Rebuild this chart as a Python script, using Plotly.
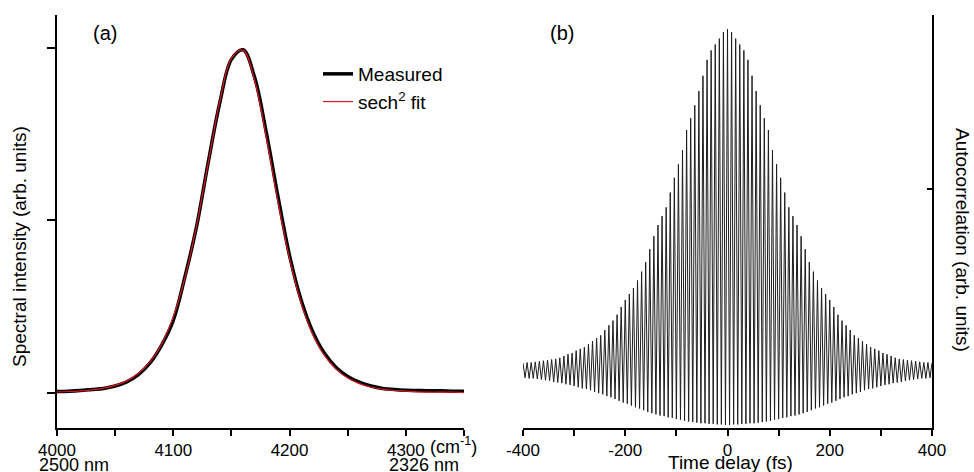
import plotly.graph_objects as go

# ---------------- Panel (a): spectrum ----------------
wavenumber = [4000, 4010, 4020, 4030, 4040, 4050, 4060, 4070, 4080, 4090,
              4100, 4110, 4120, 4130, 4140, 4150, 4160, 4170, 4180, 4190,
              4200, 4210, 4220, 4230, 4240, 4250, 4260, 4270, 4280, 4290,
              4300, 4310, 4320, 4330, 4340, 4350]
measured = [0.003, 0.004, 0.006, 0.009, 0.012, 0.019, 0.031, 0.052, 0.086, 0.138,
            0.210, 0.336, 0.482, 0.668, 0.842, 0.968, 0.996, 0.915, 0.755, 0.570,
            0.398, 0.268, 0.176, 0.114, 0.073, 0.047, 0.030, 0.019, 0.012, 0.009,
            0.007, 0.006, 0.005, 0.005, 0.004, 0.004]
sech2_fit = [0.002, 0.003, 0.005, 0.008, 0.013, 0.021, 0.034, 0.056, 0.089, 0.141,
             0.220, 0.333, 0.484, 0.666, 0.846, 0.971, 0.995, 0.906, 0.742, 0.555,
             0.389, 0.260, 0.169, 0.108, 0.068, 0.042, 0.026, 0.016, 0.010, 0.006,
             0.004, 0.002, 0.001, 0.001, 0.001, 0.000]

wn_tickvals = [4000, 4100, 4200, 4300]
wn_ticktext = ["4000", "4100", "4200", "4300"]
wn_minor = [4050, 4150, 4250, 4350]

# ---------------- Panel (b): interferometric autocorrelation ----------------
# fringe maxima at |delay| = 0, 8, ..., 400 fs
peak_vals = [6.71, 6.66, 6.55, 6.45, 6.35, 6.19, 5.92, 5.66, 5.42, 5.20,
             5.00, 4.66, 4.42, 4.19, 3.94, 3.69, 3.54, 3.39, 3.20, 2.98,
             2.76, 2.60, 2.45, 2.32, 2.22, 2.12, 2.00, 1.87, 1.77, 1.69,
             1.61, 1.52, 1.47, 1.42, 1.37, 1.32, 1.29, 1.26, 1.22, 1.20,
             1.17, 1.14, 1.12, 1.11, 1.10, 1.09, 1.08, 1.07, 1.06, 1.06,
             1.05]
# fringe minima at |delay| = 4, 12, ..., 396 fs
trough_vals = [0.00, 0.01, 0.01, 0.02, 0.02, 0.03, 0.03, 0.04, 0.05, 0.06,
               0.07, 0.09, 0.10, 0.12, 0.13, 0.15, 0.16, 0.18, 0.20, 0.22,
               0.25, 0.28, 0.30, 0.33, 0.36, 0.38, 0.41, 0.44, 0.47, 0.49,
               0.52, 0.54, 0.56, 0.59, 0.61, 0.62, 0.64, 0.66, 0.68, 0.69,
               0.71, 0.72, 0.73, 0.75, 0.76, 0.77, 0.78, 0.79, 0.79, 0.80]

delay_tickvals = [-400, -200, 0, 200, 400]
delay_ticktext = ["-400", "-200", "0", "200", "400"]
delay_minor = [-300, -100, 100, 300]

delays = list(range(-400, 401, 4))
acf = []
for d in delays:
    a = abs(d)
    if a % 8 == 0:
        acf.append(peak_vals[a // 8])
    else:
        acf.append(trough_vals[(a - 4) // 8])

# ---------------- Figure ----------------
W, H = 974, 472
FONT = "Liberation Sans, Arial, sans-serif"

def px(x):
    return x / W

def py(y):
    return 1 - y / H

fig = go.Figure()
fig.add_trace(go.Scatter(x=wavenumber, y=measured, mode="lines", name="Measured",
                         line=dict(color="black", width=3.5, shape="spline"),
                         xaxis="x", yaxis="y"))
fig.add_trace(go.Scatter(x=wavenumber, y=sech2_fit, mode="lines", name="sech<sup>2</sup> fit",
                         line=dict(color="rgb(215,25,28)", width=1.2, shape="spline"),
                         xaxis="x", yaxis="y"))
fig.add_trace(go.Scatter(x=delays, y=acf, mode="lines", showlegend=False,
                         line=dict(color="rgb(30,30,30)", width=1),
                         xaxis="x2", yaxis="y2"))

ydom = [py(428), py(15)]
axis_common = dict(showgrid=False, zeroline=False, showline=True, linecolor="black",
                   linewidth=2, tickcolor="black", tickwidth=1.5, automargin=False,
                   tickfont=dict(family=FONT, size=17, color="black"))

fig.update_layout(
    width=W, height=H, autosize=False,
    margin=dict(l=0, r=0, t=0, b=0, pad=0),
    paper_bgcolor="white", plot_bgcolor="white",
    font=dict(family=FONT, color="black"),
    xaxis=dict(domain=[px(57), px(464)], range=[4000, 4350], anchor="y",
               tickmode="array", tickvals=wn_tickvals, ticktext=wn_ticktext,
               ticks="outside", ticklen=6,
               minor=dict(tickvals=wn_minor, ticks="outside",
                          ticklen=6, tickwidth=1.5, tickcolor="black", showgrid=False),
               **axis_common),
    yaxis=dict(domain=ydom, range=[-0.103, 1.097], anchor="x",
               tickmode="array", tickvals=[0, 0.5, 1], showticklabels=False,
               ticks="outside", ticklen=8, **axis_common),
    xaxis2=dict(domain=[px(523), px(932)], range=[-400, 400], anchor="y2",
                tickmode="array", tickvals=delay_tickvals, ticktext=delay_ticktext,
                ticks="outside", ticklen=6,
                minor=dict(tickvals=delay_minor, ticks="outside",
                           ticklen=6, tickwidth=1.5, tickcolor="black", showgrid=False),
                **axis_common),
    yaxis2=dict(domain=ydom, range=[-0.051, 6.95], anchor="x2", side="right",
                tickmode="array", tickvals=[4], showticklabels=False,
                ticks="inside", ticklen=5, **axis_common),
    legend=dict(x=px(318), y=py(55), xanchor="left", yanchor="top",
                bgcolor="rgba(0,0,0,0)", font=dict(family=FONT, size=19, color="black"),
                tracegroupgap=0),
)

ann = [
    dict(text="(a)", x=px(105), y=py(33), size=20, xanchor="center", yanchor="middle"),
    dict(text="(b)", x=px(562), y=py(33), size=20, xanchor="center", yanchor="middle"),
    dict(text="(cm<sup>-1</sup>)", x=px(428), y=py(445), size=18, xanchor="left", yanchor="middle"),
    dict(text="2500 nm", x=px(37), y=py(465), size=18, xanchor="left", yanchor="middle"),
    dict(text="2326 nm", x=px(387), y=py(465), size=18, xanchor="left", yanchor="middle"),
    dict(text="Time delay (fs)", x=px(730), y=py(462), size=19, xanchor="center", yanchor="middle"),
]
for a in ann:
    fig.add_annotation(text=a["text"], x=a["x"], y=a["y"], xref="paper", yref="paper",
                       xanchor=a["xanchor"], yanchor=a["yanchor"], showarrow=False,
                       font=dict(family=FONT, size=a["size"], color="black"))

fig.add_annotation(text="Spectral intensity (arb. units)", x=px(19), y=py(247),
                   xref="paper", yref="paper", textangle=-90, showarrow=False,
                   xanchor="center", yanchor="middle",
                   font=dict(family=FONT, size=19, color="black"))
fig.add_annotation(text="Autocorrelation (arb. units)", x=px(963), y=py(240),
                   xref="paper", yref="paper", textangle=90, showarrow=False,
                   xanchor="center", yanchor="middle",
                   font=dict(family=FONT, size=19, color="black"))

fig.write_html("out.html",
               config={"displayModeBar": False},
               post_script="document.body.style.margin='0';document.body.style.padding='0';"
                           "document.body.style.overflow='hidden';")
